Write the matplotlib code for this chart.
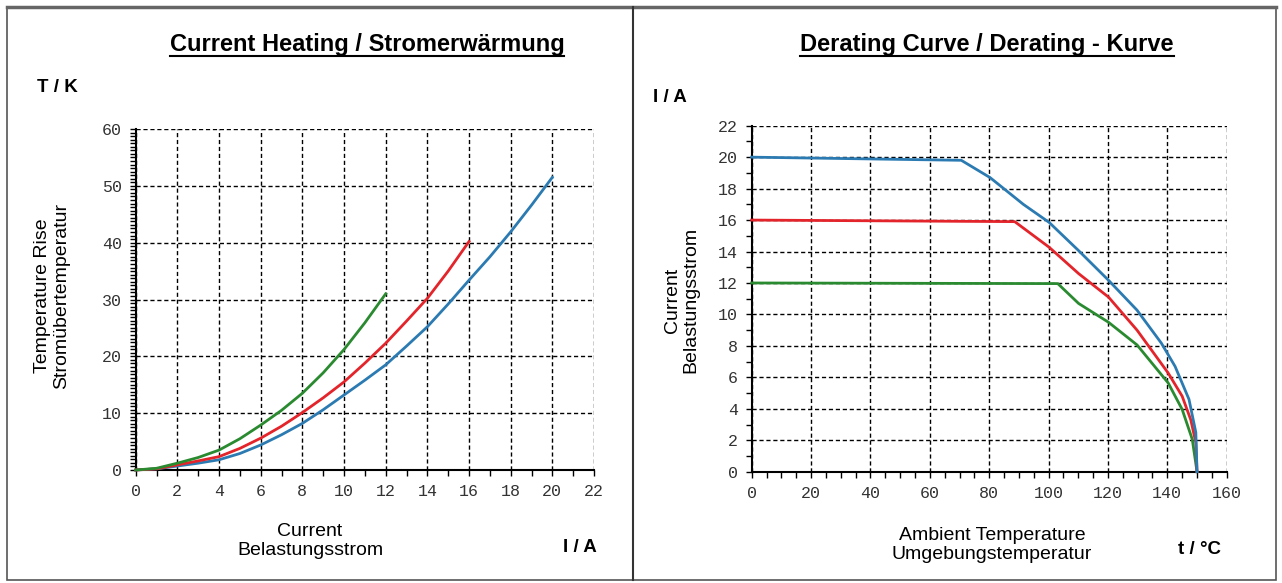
import matplotlib
matplotlib.use("Agg")
import matplotlib.pyplot as plt
from matplotlib.ticker import MultipleLocator
from matplotlib.lines import Line2D
from matplotlib.patches import Rectangle

# ---------------- data ----------------
heat_I_blue = [0, 1, 2, 3, 4, 5, 6, 7, 8, 9, 10, 11, 12, 13, 14, 15, 16, 17, 18, 19, 20]
heat_T_blue = [0, 0.2, 0.7, 1.2, 1.8, 2.9, 4.4, 6.2, 8.2, 10.6, 13.2, 15.8, 18.5, 21.8, 25.2,
               29.2, 33.4, 37.5, 41.9, 46.6, 51.5]
heat_I_red = [0, 1, 2, 3, 4, 5, 6, 7, 8, 9, 10, 11, 12, 13, 14, 15, 16]
heat_T_red = [0, 0.2, 0.9, 1.6, 2.35, 3.8, 5.6, 7.7, 10.1, 12.7, 15.5, 18.8, 22.3, 26.2, 30.2, 35.0, 40.2]
heat_I_green = [0, 1, 2, 3, 4, 5, 6, 7, 8, 9, 10, 11, 12]
heat_T_green = [0, 0.3, 1.2, 2.2, 3.5, 5.5, 7.9, 10.5, 13.5, 17.1, 21.2, 25.9, 31.0]

der_t_blue = [0, 70.6, 80.3, 91.5, 100.2, 110.1, 120.2, 129.8, 138, 142.6, 147.3, 149.6, 150]
der_I_blue = [20, 19.8, 18.7, 17.0, 15.85, 14.06, 12.17, 10.27, 8.17, 6.7, 4.6, 2.5, 0]
der_t_red = [0, 88.6, 100.2, 110.1, 120.2, 129.8, 140.3, 145, 147.9, 149.6, 150]
der_I_red = [16, 15.9, 14.27, 12.6, 11.1, 9.0, 6.27, 4.8, 3.3, 1.85, 0]
der_t_green = [0, 103.1, 110.1, 120.2, 129.8, 140.3, 145, 148.4, 150]
der_I_green = [12, 11.96, 10.7, 9.5, 8.06, 5.64, 3.96, 2.06, 0]

heat_xticks = list(range(0, 23, 2))
heat_yticks = list(range(0, 61, 10))
der_xticks = list(range(0, 161, 20))
der_yticks = list(range(0, 23, 2))

BLUE = '#2b7bb2'
RED = '#e3242b'
GREEN = '#2a8a30'

W, H = 1282, 583
fig = plt.figure(figsize=(W / 100, H / 100), dpi=100)
fig.patch.set_facecolor('white')

def px_rect(x0, y0, x1, y1):
    return [x0 / W, 1 - y1 / H, (x1 - x0) / W, (y1 - y0) / H]

ax1 = fig.add_axes(px_rect(135.7, 129, 594, 470))
ax2 = fig.add_axes(px_rect(751.7, 125.7, 1226.7, 471.7))

def style(ax, xticks, yticks, xminor, yminor):
    ax.set_xlim(xticks[0], xticks[-1])
    ax.set_ylim(yticks[0], yticks[-1])
    ax.set_xticks(xticks)
    ax.set_yticks(yticks)
    ax.xaxis.set_minor_locator(MultipleLocator(xminor))
    ax.yaxis.set_minor_locator(MultipleLocator(yminor))
    ax.grid(True, which='major', color='black', linestyle=(0, (3, 2)), linewidth=1.0)
    ax.spines['top'].set_visible(False)
    ax.spines['right'].set_visible(False)
    for s in ('left', 'bottom'):
        ax.spines[s].set_linewidth(1.5)
    ax.tick_params(which='both', direction='out', length=4, width=1, color='black')
    ax.tick_params(which='major', labelsize=12, pad=6, labelcolor='#333333')
    for lab in ax.get_xticklabels() + ax.get_yticklabels():
        lab.set_family('Liberation Mono')
    ax.set_axisbelow(True)

style(ax1, heat_xticks, heat_yticks, 1, 10 / 16)
style(ax2, der_xticks, der_yticks, 5, 1)

for ax, data in ((ax1, [(heat_I_blue, heat_T_blue, BLUE), (heat_I_red, heat_T_red, RED),
                        (heat_I_green, heat_T_green, GREEN)]),
                 (ax2, [(der_t_green, der_I_green, GREEN), (der_t_red, der_I_red, RED),
                        (der_t_blue, der_I_blue, BLUE)])):
    for x, y, c in data:
        ax.plot(x, y, color=c, linewidth=2.0, clip_on=False, zorder=3)

# ---------------- texts ----------------
def ftext(x, y, s, **kw):
    return fig.text(x / W, 1 - y / H, s, **kw)

t1 = ftext(367, 45, 'Current Heating / Stromerwärmung', ha='center', va='center',
           fontsize=17, fontweight='bold', family='Liberation Sans')
t2 = ftext(987, 45, 'Derating Curve / Derating - Kurve', ha='center', va='center',
           fontsize=17, fontweight='bold', family='Liberation Sans')

ftext(37, 88, 'T / K', ha='left', va='center', fontsize=13.5, fontweight='bold', family='Liberation Sans')
ftext(653, 97, 'I / A', ha='left', va='center', fontsize=13.5, fontweight='bold', family='Liberation Sans')
ftext(580, 547, 'I / A', ha='center', va='center', fontsize=13.5, fontweight='bold', family='Liberation Sans')
ftext(1199, 549, 't / °C', ha='center', va='center', fontsize=13.5, fontweight='bold', family='Liberation Sans')

ftext(310, 541, 'Current\nBelastungsstrom', ha='center', va='center', fontsize=14,
      family='Liberation Sans', linespacing=1.1)
ftext(992, 545, 'Ambient Temperature\nUmgebungstemperatur', ha='center', va='center', fontsize=14,
      family='Liberation Sans', linespacing=1.1)
ftext(52, 296, 'Temperature Rise\nStromübertemperatur', ha='center', va='center', fontsize=14,
      family='Liberation Sans', rotation=90, linespacing=1.1)
ftext(682, 300, 'Current\nBelastungsstrom', ha='center', va='center', fontsize=14,
      family='Liberation Sans', rotation=90, linespacing=1.1)

# underline titles
fig.canvas.draw()
r = fig.canvas.get_renderer()
for t in (t1, t2):
    bb = t.get_window_extent(r)
    yline = bb.y0 + 1
    fig.add_artist(Line2D([bb.x0 / W, bb.x1 / W], [yline / H, yline / H],
                          transform=fig.transFigure, color='black', linewidth=1.5))

# frame borders
fig.add_artist(Rectangle((7 / W, 1 - 580 / H), (1276 - 7) / W, (580 - 7) / H,
                         transform=fig.transFigure, fill=False, edgecolor='#555555', linewidth=1.2))
fig.add_artist(Line2D([7 / W, 1276 / W], [1 - 7 / H, 1 - 7 / H], transform=fig.transFigure,
                      color='#666666', linewidth=2.5))
fig.add_artist(Line2D([633 / W, 633 / W], [1 - 7 / H, 1 - 580 / H], transform=fig.transFigure,
                      color='#333333', linewidth=1.5))

fig.savefig('out.png', dpi=100)
